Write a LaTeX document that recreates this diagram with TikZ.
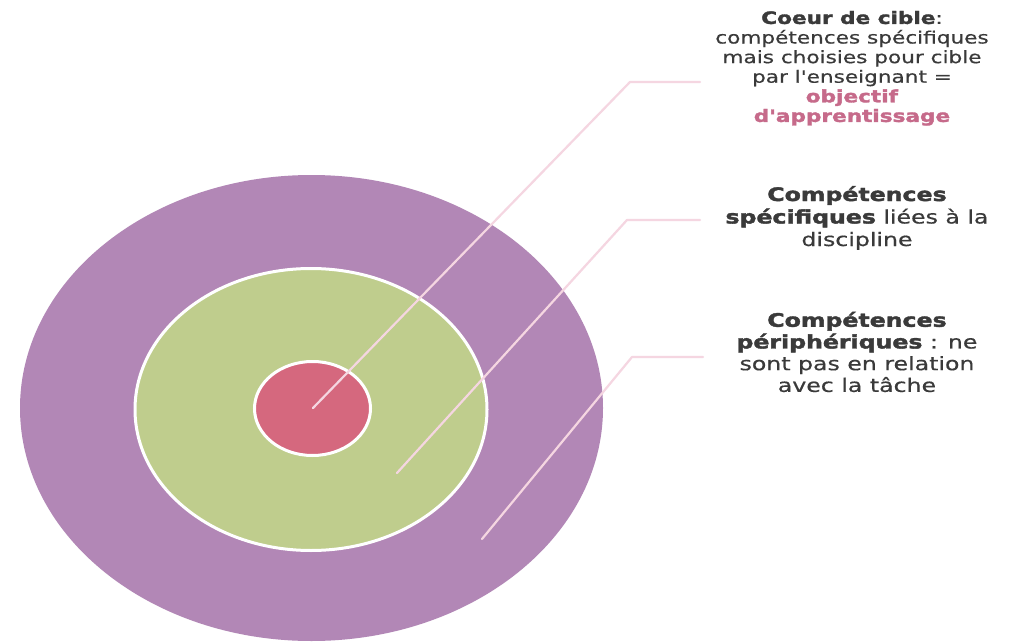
\documentclass[tikz,border=0pt]{standalone}
\usepackage{fontspec}
\usepackage{graphicx}
\setmainfont{DejaVu Sans}[Ligatures=TeXOff,FakeBold=0.5,BoldFeatures={FakeBold=1.8}]
\usetikzlibrary{shapes.geometric}
\definecolor{ringpurple}{RGB}{178,135,182}
\definecolor{ringgreen}{RGB}{191,205,141}
\definecolor{ringred}{RGB}{213,104,126}
\definecolor{leader}{RGB}{245,214,225}
\definecolor{txt}{RGB}{58,58,58}
\definecolor{goal}{RGB}{198,106,138}
\newcommand{\stretchblock}[3]{\scalebox{1.27}[1]{\fontsize{#1}{#2}\selectfont\begin{tabular}{@{}c@{}}#3\end{tabular}}}
\begin{document}
\begin{tikzpicture}[x=1pt,y=-1pt,
  ring/.style={ellipse,inner sep=0pt,draw=white},
  leaderline/.style={draw=leader,line width=2.2pt,line cap=round,line join=round},
  label/.style={inner sep=0pt,text=txt,anchor=center}]
\useasboundingbox[fill=white] (0,0) rectangle (1013,642);
% target rings
\node[ring,fill=ringpurple,draw=none,minimum width=583pt,minimum height=466pt] (outer) at (311.5,408) {};
\node[ring,fill=ringgreen,line width=3pt,minimum width=352pt,minimum height=282pt] (middle) at (311,409.5) {};
\node[ring,fill=ringred,line width=3pt,minimum width=116pt,minimum height=94pt] (core) at (312.5,408.5) {};
% labels
\node[label] (t1) at (852,69) {\stretchblock{17}{19.6}{%
  \textbf{Coeur de cible}:\\
  compétences spécifiques\\
  mais choisies pour cible\\
  par l'enseignant =\\
  \textcolor{goal}{\textbf{objectif}}\\
  \textcolor{goal}{\textbf{d'apprentissage}}}};
\node[label] (t2) at (857,219) {\stretchblock{18.6}{22.5}{%
  \textbf{Compétences}\\
  \textbf{spécifiques} liées à la\\
  discipline}};
\node[label] (t3) at (857,355) {\stretchblock{18.6}{21.7}{%
  \textbf{Compétences}\\
  \textbf{périphériques} : ne\\
  sont pas en relation\\
  avec la tâche}};
% leader lines
\coordinate (s1) at (313,408);
\coordinate (b1) at (630,82);
\coordinate (e1) at (700,82);
\coordinate (s2) at (397,473);
\coordinate (b2) at (627,220);
\coordinate (e2) at (700,220);
\coordinate (s3) at (482,539);
\coordinate (b3) at (632,357);
\coordinate (e3) at (703,357);
\draw[leaderline] (s1) -- (b1) -- (e1);
\draw[leaderline] (s2) -- (b2) -- (e2);
\draw[leaderline] (s3) -- (b3) -- (e3);
\end{tikzpicture}
\end{document}
